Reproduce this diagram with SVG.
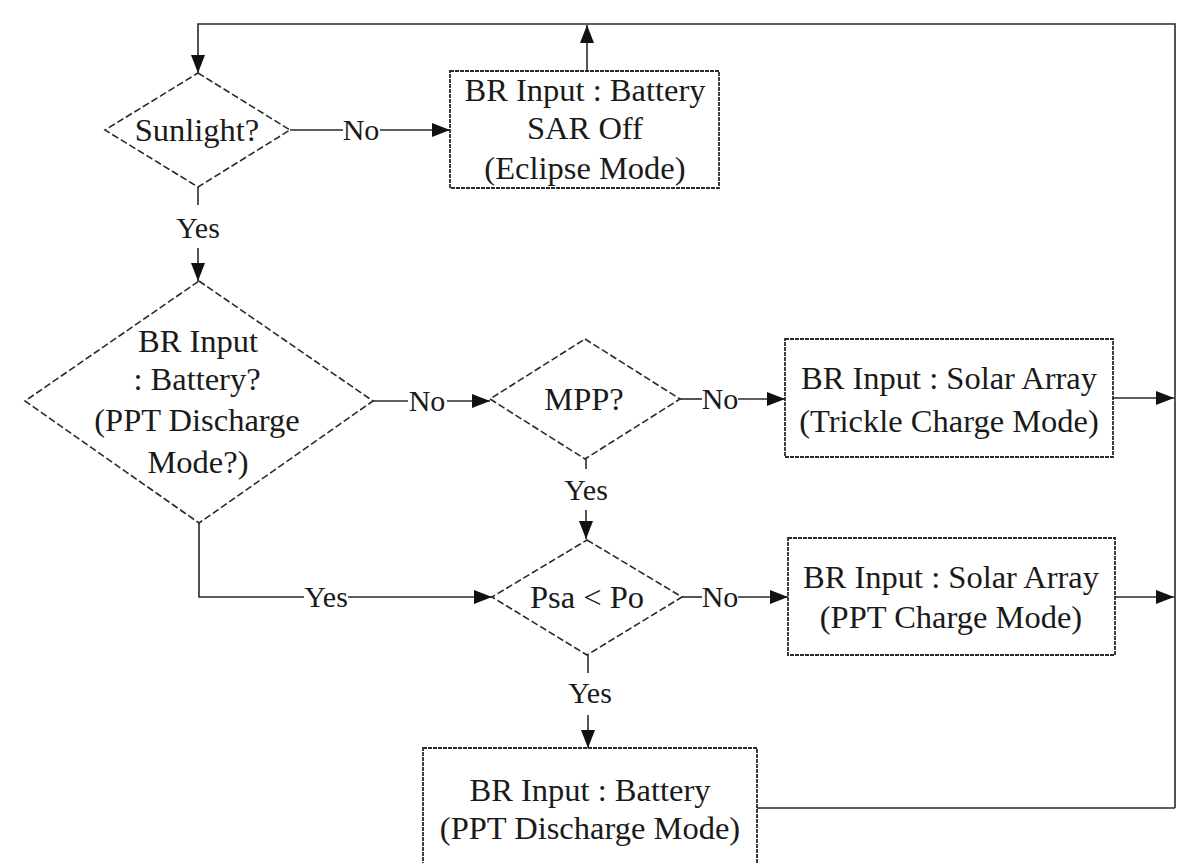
<svg xmlns="http://www.w3.org/2000/svg" width="1179" height="863" viewBox="0 0 1179 863">
<style>
.bg{fill:#ffffff}
.dia{fill:none;stroke:#2a2a2a;stroke-width:1.6;stroke-dasharray:7 3}
.box{fill:none;stroke:#2a2a2a;stroke-width:1.8;stroke-dasharray:4 1}
.ln{fill:none;stroke:#2a2a2a;stroke-width:1.6}
.t{font-family:"Liberation Serif","Times New Roman",serif;font-size:30px;fill:#1a1a1a;text-anchor:middle}
.n{font-family:"Liberation Serif","Times New Roman",serif;font-size:32.5px;fill:#1a1a1a;text-anchor:middle}
</style>
<defs>
<marker id="ah" viewBox="0 0 18 14" refX="18" refY="7" markerWidth="18" markerHeight="14" markerUnits="userSpaceOnUse" orient="auto">
<path d="M0,0 L18,7 L0,14 z" fill="#111"/>
</marker>
</defs>
<rect class="bg" x="0" y="0" width="1179" height="863"/>

<g id="connectors">
<polyline class="ln" points="1175,808 1175,24 198,24 198,73" marker-end="url(#ah)"/>
<line class="ln" x1="587" y1="71" x2="587" y2="25" marker-end="url(#ah)"/>
<line class="ln" x1="290" y1="130" x2="343" y2="130"/>
<line class="ln" x1="380" y1="130" x2="450" y2="130" marker-end="url(#ah)"/>
<line class="ln" x1="198" y1="187" x2="198" y2="205"/>
<line class="ln" x1="198" y1="248" x2="198" y2="281" marker-end="url(#ah)"/>
<line class="ln" x1="373" y1="401" x2="408" y2="401"/>
<line class="ln" x1="447" y1="401" x2="490" y2="401" marker-end="url(#ah)"/>
<polyline class="ln" points="199,523 199,597 304,597"/>
<line class="ln" x1="348" y1="597" x2="492" y2="597" marker-end="url(#ah)"/>
<line class="ln" x1="680" y1="399" x2="702" y2="399"/>
<line class="ln" x1="738" y1="399" x2="785" y2="399" marker-end="url(#ah)"/>
<line class="ln" x1="586" y1="459" x2="586" y2="469"/>
<line class="ln" x1="586" y1="510" x2="586" y2="539" marker-end="url(#ah)"/>
<line class="ln" x1="682" y1="597" x2="702" y2="597"/>
<line class="ln" x1="738" y1="597" x2="788" y2="597" marker-end="url(#ah)"/>
<line class="ln" x1="588" y1="655" x2="588" y2="673"/>
<line class="ln" x1="588" y1="715" x2="588" y2="748" marker-end="url(#ah)"/>
<line class="ln" x1="1113" y1="398" x2="1174" y2="398" marker-end="url(#ah)"/>
<line class="ln" x1="1115" y1="597" x2="1174" y2="597" marker-end="url(#ah)"/>
<line class="ln" x1="757" y1="808" x2="1175" y2="808"/>
<text class="t" x="361" y="140">No</text>
<text class="t" x="198" y="238">Yes</text>
<text class="t" x="427" y="411">No</text>
<text class="t" x="326" y="607">Yes</text>
<text class="t" x="720" y="409">No</text>
<text class="t" x="586" y="500">Yes</text>
<text class="t" x="720" y="607">No</text>
<text class="t" x="590" y="703">Yes</text>
</g>

<g id="sunlight">
<polygon class="dia" points="198,73 290,130 198,187 105,130"/>
<text class="n" x="197" y="141">Sunlight?</text>
</g>

<g id="eclipse">
<rect class="box" x="450" y="71" width="269" height="117"/>
<text class="n" x="585" y="101">BR Input : Battery</text>
<text class="n" x="585" y="139">SAR Off</text>
<text class="n" x="585" y="179">(Eclipse Mode)</text>
</g>

<g id="battery-q">
<polygon class="dia" points="199,281 373,401 199,523 25,401"/>
<text class="n" x="198" y="352">BR Input</text>
<text class="n" x="197" y="390">: Battery?</text>
<text class="n" x="197" y="431">(PPT Discharge</text>
<text class="n" x="198" y="473">Mode?)</text>
</g>

<g id="mpp">
<polygon class="dia" points="585,339 680,399 585,459 490,399"/>
<text class="n" x="584" y="410">MPP?</text>
</g>

<g id="psa">
<polygon class="dia" points="587,540 682,597 587,655 492,597"/>
<text class="n" x="587" y="608">Psa &lt; Po</text>
</g>

<g id="trickle">
<rect class="box" x="785" y="339" width="328" height="118"/>
<text class="n" x="949" y="389">BR Input : Solar Array</text>
<text class="n" x="949" y="432">(Trickle Charge Mode)</text>
</g>

<g id="pptcharge">
<rect class="box" x="788" y="538" width="327" height="117"/>
<text class="n" x="951" y="588">BR Input : Solar Array</text>
<text class="n" x="951" y="628">(PPT Charge Mode)</text>
</g>

<g id="pptdischarge">
<rect class="box" x="423" y="748" width="334" height="130"/>
<text class="n" x="590" y="801">BR Input : Battery</text>
<text class="n" x="590" y="839">(PPT Discharge Mode)</text>
</g>
</svg>
